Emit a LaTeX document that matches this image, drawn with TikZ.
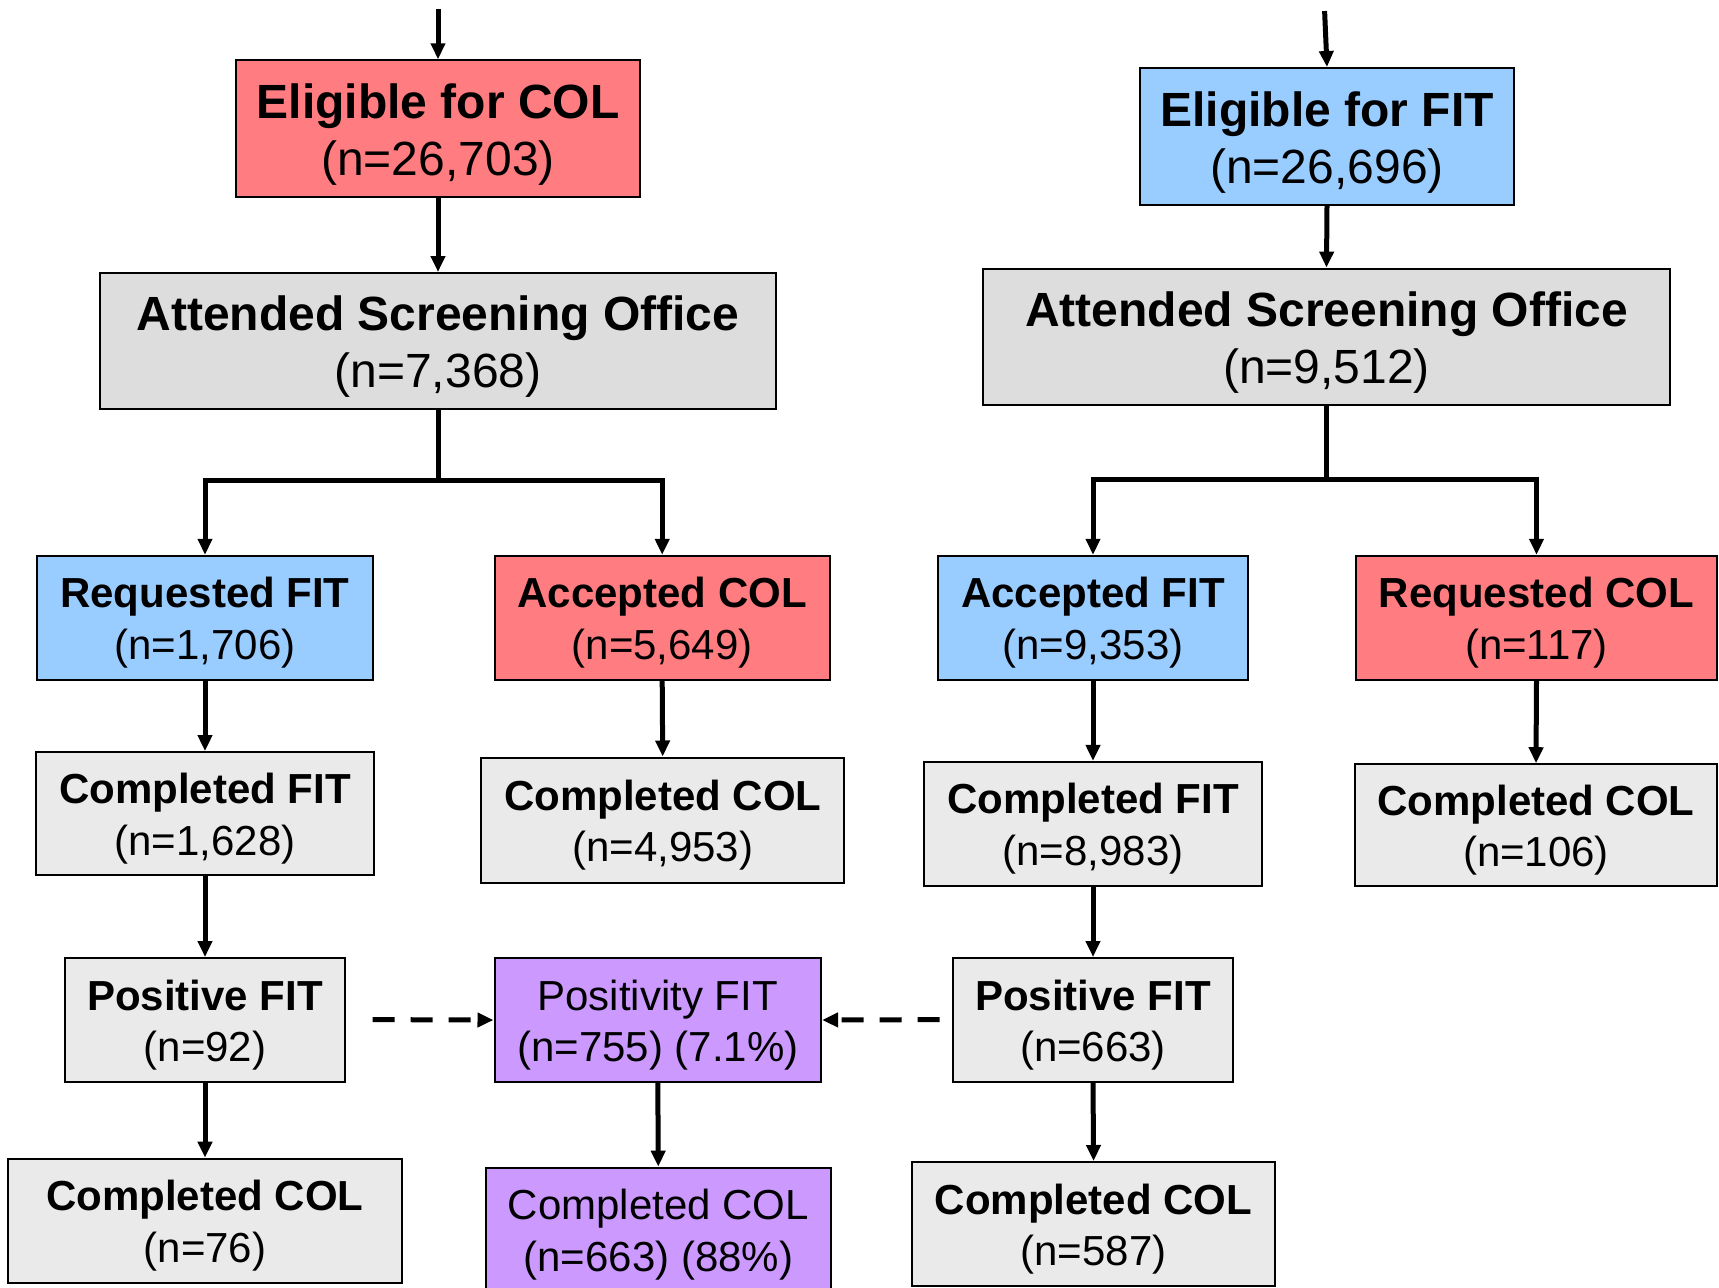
\documentclass[tikz,border=0pt]{standalone}
\usepackage{fontspec}
\setmainfont{Liberation Sans}
\usetikzlibrary{arrows.meta}
\definecolor{cred}{HTML}{FF7C80}
\definecolor{cblue}{HTML}{99CCFF}
\definecolor{cgray}{HTML}{DDDDDD}
\definecolor{clgray}{HTML}{EAEAEA}
\definecolor{cpurple}{HTML}{CC99FF}
\tikzset{
  box/.style={draw=black, line width=1pt, inner sep=0pt, anchor=center},
  bigtxt/.style={align=center, inner sep=0pt, yshift=-2.9pt, font=\fontsize{24}{28.5}\selectfont},
  smalltxt/.style={align=center, inner sep=0pt, yshift=-2.5pt, font=\fontsize{21}{25.8}\selectfont},
  bigbox/.style={box, label={[bigtxt]center:#1}},
  smallbox/.style={box, label={[smalltxt]center:#1}},
  arr/.style={line width=2.5pt, -{Triangle[length=8pt,width=7pt]}},
  dasharr/.style={arr, dash pattern=on 11pt off 8pt},
}
\begin{document}
\begin{tikzpicture}[x=0.5pt,y=-0.5pt]
\useasboundingbox (0,0) rectangle (1719,1287);
\begin{scope}
\clip (0,0) rectangle (1719,1287);
% left column
\node[bigbox={\textbf{Eligible for COL}\\(n=26,703)}, fill=cred, minimum width=202pt, minimum height=68.5pt] (eligcol) at (438,128.8) {};
\node[bigbox={\textbf{Attended Screening Office}\\(n=7,368)}, fill=cgray, minimum width=338pt, minimum height=68pt] (attl) at (438,341) {};
\node[smallbox={\textbf{Requested FIT}\\(n=1,706)}, fill=cblue, minimum width=167.7pt, minimum height=62pt] (reqfit) at (205,617.8) {};
\node[smallbox={\textbf{Accepted COL}\\(n=5,649)}, fill=cred, minimum width=167.7pt, minimum height=62pt] (acccol) at (662.2,617.8) {};
\node[smallbox={\textbf{Completed FIT}\\(n=1,628)}, fill=clgray, minimum width=168.8pt, minimum height=61.4pt] (compfitl) at (205,813.5) {};
\node[smallbox={\textbf{Completed COL}\\(n=4,953)}, fill=clgray, minimum width=181.4pt, minimum height=62.5pt] (compcolml) at (662.7,820) {};
\node[smallbox={\textbf{Positive FIT}\\(n=92)}, fill=clgray, minimum width=140.3pt, minimum height=62pt] (posfitl) at (205,1020) {};
\node[smallbox={Positivity FIT\\(n=755) (7.1\%)}, fill=cpurple, minimum width=163.3pt, minimum height=62pt] (positivity) at (657.8,1020) {};
\node[smallbox={\textbf{Completed COL}\\(n=76)}, fill=clgray, minimum width=197.3pt, minimum height=62pt] (compcollb) at (205,1220.7) {};
\node[smallbox={Completed COL\\(n=663) (88\%)}, fill=cpurple, minimum width=172.6pt, minimum height=62pt] (compcolp) at (658.3,1229.6) {};
% right column
\node[bigbox={\textbf{Eligible for FIT}\\(n=26,696)}, fill=cblue, minimum width=186.9pt, minimum height=68.5pt] (eligfit) at (1327,136.5) {};
\node[bigbox={\textbf{Attended Screening Office}\\(n=9,512)}, fill=cgray, minimum width=343.1pt, minimum height=68pt] (attr) at (1326.5,336.6) {};
\node[smallbox={\textbf{Accepted FIT}\\(n=9,353)}, fill=cblue, minimum width=154.6pt, minimum height=62pt] (accfit) at (1093,617.8) {};
\node[smallbox={\textbf{Requested COL}\\(n=117)}, fill=cred, minimum width=180.3pt, minimum height=62pt] (reqcol) at (1536.5,617.8) {};
\node[smallbox={\textbf{Completed FIT}\\(n=8,983)}, fill=clgray, minimum width=168.8pt, minimum height=62pt] (compfitr) at (1093,823.9) {};
\node[smallbox={\textbf{Completed COL}\\(n=106)}, fill=clgray, minimum width=180.9pt, minimum height=60.8pt] (compcolr) at (1536,825) {};
\node[smallbox={\textbf{Positive FIT}\\(n=663)}, fill=clgray, minimum width=140.3pt, minimum height=62pt] (posfitr) at (1093,1020) {};
\node[smallbox={\textbf{Completed COL}\\(n=587)}, fill=clgray, minimum width=181.4pt, minimum height=62pt] (compcolrb) at (1093.6,1224) {};
\end{scope}
% coordinates
\coordinate (topl) at (438,8.8);
\coordinate (topr) at (1324.6,11);
\coordinate (brl) at (438,480.2);
\coordinate (brr) at (1326.5,479);
\coordinate (dl) at (372.7,1019.6);
\coordinate (dr) at (939.5,1019.6);
% connectors left
\draw[arr] (topl) -- (eligcol.north);
\draw[arr] (eligcol.south) -- (attl.north);
\draw[line width=2.5pt] (attl.south) -- (brl);
\draw[arr] (brl) -| (reqfit.north);
\draw[arr] (brl) -| (acccol.north);
\draw[arr] (reqfit.south) -- (compfitl.north);
\draw[arr] (acccol.south) -- (compcolml.north);
\draw[arr] (compfitl.south) -- (posfitl.north);
\draw[arr] (posfitl.south) -- (compcollb.north);
\draw[arr] (positivity.south) -- (compcolp.north);
% connectors right
\draw[arr] (topr) -- (eligfit.north);
\draw[arr] (eligfit.south) -- (attr.north);
\draw[line width=2.5pt] (attr.south) -- (brr);
\draw[arr] (brr) -| (accfit.north);
\draw[arr] (brr) -| (reqcol.north);
\draw[arr] (accfit.south) -- (compfitr.north);
\draw[arr] (reqcol.south) -- (compcolr.north);
\draw[arr] (compfitr.south) -- (posfitr.north);
\draw[arr] (posfitr.south) -- (compcolrb.north);
% dashed
\draw[dasharr] (dl) -- (positivity.west);
\draw[dasharr] (dr) -- (positivity.east);
\end{tikzpicture}
\end{document}
